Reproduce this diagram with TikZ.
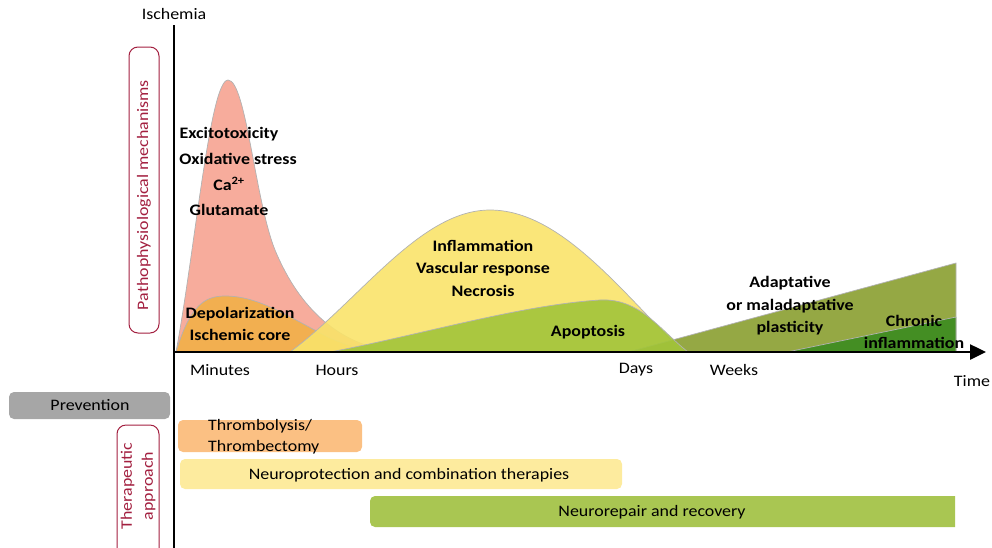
\documentclass[tikz,border=0pt]{standalone}
\usepackage{fontspec}
\setmainfont{Carlito}[FakeStretch=1.12]
\usetikzlibrary{arrows.meta}
\definecolor{peakred}{HTML}{F6A391}
\definecolor{depol}{HTML}{F2B049}
\definecolor{inflam}{HTML}{F9E36A}
\definecolor{apopt}{HTML}{A2C53A}
\definecolor{plast}{HTML}{8A9F30}
\definecolor{chronic}{HTML}{3C8C20}
\definecolor{sidered}{HTML}{A32040}
\definecolor{prevgray}{HTML}{A6A6A6}
\definecolor{thrombo}{HTML}{FBC083}
\definecolor{neuroprot}{HTML}{FDEB9E}
\definecolor{repair}{HTML}{A9C652}
\begin{document}
\begin{tikzpicture}[x=1pt, y=-1pt,
    curve/.style={draw=gray!60, line width=0.7pt, fill opacity=0.9},
    lbl/.style={font=\bfseries\fontsize{16}{22.5}\selectfont, align=center, inner sep=0pt},
    tick/.style={font=\fontsize{16}{19}\selectfont, inner sep=0pt},
    bar/.style={rounded corners=5pt, draw=none},
    sidebox/.style={draw=sidered, rounded corners=9pt, line width=1pt, fill=white},
    sidetext/.style={text=sidered, rotate=90, align=center, inner sep=0pt,
        font=\fontsize{16}{21}\selectfont}]
    \useasboundingbox (0,0) rectangle (992,547);
    \coordinate (O) at (174,352);
    \coordinate (top) at (174,25);
    \coordinate (bot) at (174,550);
    \coordinate (end) at (986,352);
    \draw[curve, fill=peakred] (176,352) .. controls (195,250) and (210,80) .. (228,80)
        .. controls (246,80) and (255,200) .. (275,250)
        .. controls (300,310) and (340,345) .. (395,352) -- cycle;
    \draw[curve, fill=depol] (176,352) .. controls (190,305) and (205,296) .. (225,296)
        .. controls (260,296) and (290,318) .. (330,338)
        .. controls (350,347) and (370,352) .. (392,352) -- cycle;
    \draw[curve, fill=inflam] (290,352) .. controls (360,300) and (420,210) .. (490,210)
        .. controls (560,210) and (620,290) .. (683,352) -- cycle;
    \draw[curve, fill=plast] (628,352) -- (956,263) -- (956,352) -- cycle;
    \draw[curve, fill=apopt] (330,352) .. controls (420,335) and (520,305) .. (600,300)
        .. controls (640,298) and (660,330) .. (688,352) -- cycle;
    \draw[curve, fill=chronic] (787,352) -- (956,317) -- (956,352) -- cycle;
    \draw[line width=2pt] (top) -- (bot);
    \draw[line width=2.5pt, -{Triangle[length=16pt,width=15pt]}] (O) -- (end);
    \node[tick] (ischemia) at (174,14) {Ischemia};
    \node[tick] (time) at (972,381) {Time};
    \node[tick] (minutes) at (220,370) {Minutes};
    \node[tick] (hours) at (337,370) {Hours};
    \node[tick] (days) at (636,370) {Days};
    \node[tick] (weeks) at (734,370) {Weeks};
    \node[lbl] (excito) at (229,134) {Excitotoxicity};
    \node[lbl] (oxid) at (238,159) {Oxidative stress};
    \node[lbl] (calcium) at (229,184) {Ca\textsuperscript{2+}};
    \node[lbl] (glut) at (229,210) {Glutamate};
    \node[lbl] (depolar) at (240,324) {Depolarization\\Ischemic core};
    \node[lbl] (inflamtxt) at (483,268) {Inflammation\\Vascular response\\Necrosis};
    \node[lbl] (apopttxt) at (588,332) {Apoptosis};
    \node[lbl] (plasttxt) at (790,306) {Adaptative\\or maladaptative\\plasticity};
    \node[lbl] (chronictxt) at (914,332) {Chronic\\inflammation};
    \draw[sidebox] (129,47) rectangle (159,333);
    \node[sidetext] (patho) at (144,195) {Pathophysiological mechanisms};
    \draw[bar, fill=prevgray] (9,392) rectangle (170,419);
    \node[tick] (prevention) at (90,405) {Prevention};
    \draw[sidebox] (117,425) rectangle (159,560);
    \node[sidetext] (therap) at (138,486) {Therapeutic\\approach};
    \draw[bar, fill=thrombo] (178,420) rectangle (362,452);
    \node[tick, anchor=west, align=left, font=\fontsize{16}{21}\selectfont] (thrombotxt) at (208,437) {Thrombolysis/\\Thrombectomy};
    \draw[bar, fill=neuroprot] (180,459) rectangle (622,489);
    \node[tick] (neuroprottxt) at (409,475) {Neuroprotection and combination therapies};
    \fill[repair] (955,527) [rounded corners=5pt] -- (370,527) -- (370,496) [sharp corners] -- (955,496) -- cycle;
    \node[tick] (repairtxt) at (652,512) {Neurorepair and recovery};
\end{tikzpicture}
\end{document}
